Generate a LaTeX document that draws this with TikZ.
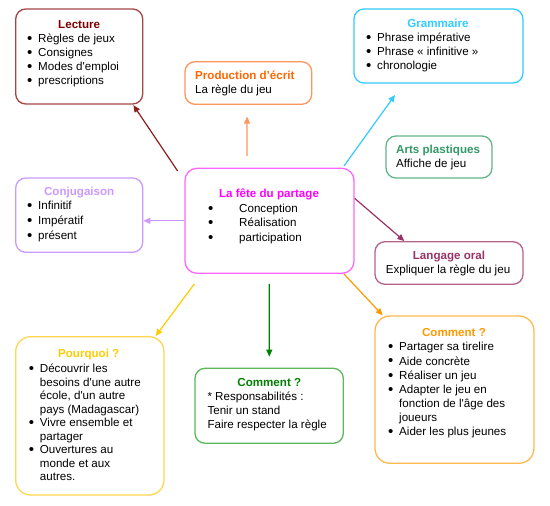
\documentclass[tikz,border=0pt]{standalone}
\usepackage{fontspec}
\setmainfont{Liberation Sans}
\usetikzlibrary{arrows.meta,calc}
\definecolor{lecB}{RGB}{165,70,70}
\definecolor{lecT}{RGB}{128,0,0}
\definecolor{lecA}{RGB}{140,30,30}
\definecolor{proB}{RGB}{255,150,90}
\definecolor{proT}{RGB}{255,102,0}
\definecolor{graB}{RGB}{51,204,255}
\definecolor{artB}{RGB}{100,180,138}
\definecolor{artT}{RGB}{51,153,102}
\definecolor{conB}{RGB}{204,153,255}
\definecolor{fetB}{RGB}{255,102,255}
\definecolor{fetT}{RGB}{255,0,255}
\definecolor{oraB}{RGB}{180,100,140}
\definecolor{oraT}{RGB}{153,51,102}
\definecolor{comB}{RGB}{255,185,80}
\definecolor{comT}{RGB}{255,153,0}
\definecolor{pouB}{RGB}{255,215,80}
\definecolor{pouT}{RGB}{255,204,0}
\definecolor{verB}{RGB}{92,184,92}
\definecolor{verT}{RGB}{0,128,0}
\newcommand\bul[1][11bp]{\makebox[#1][l]{\raisebox{-0.9bp}{\fontsize{15bp}{14bp}\selectfont•}}}
\newcommand\ind[1][11bp]{\hspace*{#1}}
\newcommand\qs{\textquotesingle}
\newcommand\stt{\rule{0pt}{10bp}}
\tikzset{
  box/.style={draw=#1, rounded corners=10bp, line width=1.3bp, inner sep=0pt, fill=white},
  ttl/.style={anchor=base, inner sep=0pt, font=\fontsize{11.6bp}{14bp}\selectfont\bfseries, text=#1},
  txt/.style={anchor=north west, inner sep=0pt, align=left, font=\fontsize{11.6bp}{#1}\selectfont},
  txt/.default={14bp},
  arr/.style={draw=#1, line width=1.2bp, -{Triangle[length=7bp,width=6bp]}}
}
\begin{document}
\begin{tikzpicture}[x=1bp,y=-1bp]
\useasboundingbox (0,0) rectangle (550,506);
\fill[white] (0,0) rectangle (550,506);
% boxes
\node[box=lecB, minimum width=127bp, minimum height=95bp] (lecture) at (79.2,56.5) {};
\node[box=proB, minimum width=126.7bp, minimum height=42.6bp] (prod) at (248.35,83) {};
\node[box=graB, minimum width=169bp, minimum height=74bp] (gram) at (438.5,46) {};
\node[box=artB, minimum width=106bp, minimum height=42bp] (arts) at (439,157) {};
\node[box=conB, minimum width=127bp, minimum height=74.3bp] (conj) at (79.2,215.15) {};
\node[box=fetB, rounded corners=12bp, minimum width=169bp, minimum height=105bp] (fete) at (269.5,220.8) {};
\node[box=oraB, minimum width=148bp, minimum height=42.6bp] (oral) at (449,263) {};
\node[box=comB, rounded corners=15bp, minimum width=159bp, minimum height=147.3bp] (comO) at (454.5,389.65) {};
\node[box=pouB, rounded corners=15bp, minimum width=148.3bp, minimum height=158.3bp] (pourq) at (89.85,415.85) {};
\node[box=verB, minimum width=148.3bp, minimum height=75bp] (comV) at (269.15,405.8) {};
% texts
\node[ttl=lecT] (lecT) at (79.2,28.3) {Lecture};
\node[txt] (lecX) at (27,32.3) {\stt\bul Règles de jeux\\\bul Consignes\\\bul Modes d\qs emploi\\\bul prescriptions};
\node[txt={14.7bp}] (proX) at (195,69) {\stt\textbf{\textcolor{proT}{Production d’écrit}}\\La règle du jeu};
\node[ttl=graB] (graT) at (438,27.3) {Grammaire};
\node[txt] (graX) at (366,31.3) {\stt\bul Phrase impérative\\\bul Phrase « infinitive »\\\bul chronologie};
\node[txt] (artX) at (396,143) {\stt\textbf{\textcolor{artT}{Arts plastiques}}\\Affiche de jeu};
\node[ttl=conB] (conT) at (79.2,196) {Conjugaison};
\node[txt={14.7bp}] (conX) at (27,199.7) {\stt\bul Infinitif\\\bul Impératif\\\bul présent};
\node[ttl=fetT] (fetT) at (269,198) {La fête du partage};
\node[txt={14.5bp}] (fetX) at (208,202) {\stt\bul[31bp]Conception\\\bul[31bp]Réalisation\\\bul[31bp]participation};
\node[ttl=oraT] (oraT) at (449,259) {Langage oral};
\node[txt, anchor=north] (oraX) at (448,263.3) {\stt Expliquer la règle du jeu};
\node[ttl=comT] (comT) at (454,336.7) {Comment ?};
\node[txt={14.17bp}] (comX) at (388,340.7) {\stt\bul Partager sa tirelire\\\bul Aide concrète\\\bul Réaliser un jeu\\\bul Adapter le jeu en\\\ind fonction de l\qs âge des\\\ind joueurs\\\bul Aider les plus jeunes};
\node[ttl=pouT] (pouT) at (88.7,357.3) {Pourquoi ?};
\node[txt={13.55bp}] (pouX) at (28.7,362.3) {\stt\bul Découvrir les\\\ind besoins d\qs une autre\\\ind école, d\qs un autre\\\ind pays (Madagascar)\\\bul Vivre ensemble et\\\ind partager\\\bul Ouvertures au\\\ind monde et aux\\\ind autres.};
\node[ttl=verT] (verT) at (269.3,386.3) {Comment ?};
\node[txt={13.8bp}] (verX) at (207.3,390.7) {\stt* Responsabilités :\\Tenir un stand\\Faire respecter la règle};
% connector start points
\coordinate (s1) at ($(fete.north west)+(-6.7,3.4)$);
\coordinate (s2) at ($(fete.north west)+(62.7,-11.6)$);
\coordinate (s3) at ($(fete.north east)+(-10.7,-1.6)$);
\coordinate (s5) at ($(fete.north east)+(0,30.7)$);
\coordinate (s6) at ($(fete.south east)+(-10.7,0)$);
\coordinate (s7) at ($(fete.south west)+(10,10)$);
\coordinate (s8) at ($(fete.south)+(-0.2,10)$);
% connectors
\draw[arr=lecA] (s1) -- ($(lecture.south east)+(-10,0.5)$);
\draw[arr=proB] (s2) -- ($(prod.south west)+(62.7,11.7)$);
\draw[arr=graB] (s3) -- ($(gram.south west)+(41.7,11.3)$);
\draw[arr=conB] (fete.west) -- (fete.west -| conj.east);
\draw[arr=oraT] (s5) -- ($(oral.north west)+(30,0)$);
\draw[arr=comT] (s6) -- ($(comO.north west)+(8.3,0)$);
\draw[arr=pouT] (s7) -- ($(pourq.north east)+(-9,0)$);
\draw[arr=verT] (s8) -- ($(comV.north)+(0.15,-11)$);
\end{tikzpicture}
\end{document}
